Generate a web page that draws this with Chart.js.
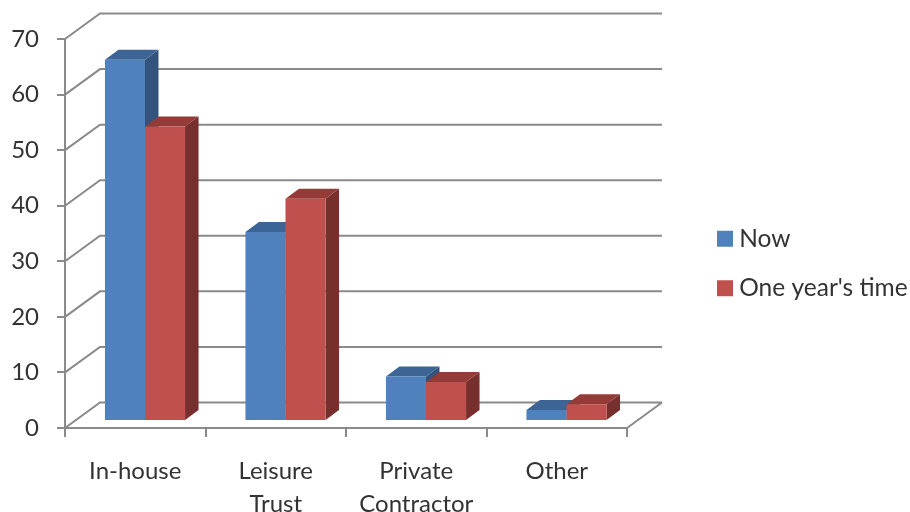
<!DOCTYPE html>
<html>
<head>
<meta charset="utf-8">
<style>
    html, body { margin: 0; padding: 0; background: #fff; }
    #wrap { width: 910px; height: 512px; }
</style>
<script src="https://cdn.jsdelivr.net/npm/chart.js@4"></script>
</head>
<body>
<div id="wrap"><canvas id="chart" width="910" height="512"></canvas></div>
<script>
const categories = ['In-house', ['Leisure', 'Trust'], ['Private', 'Contractor'], 'Other'];
const nowValues = [65, 34, 8, 2];
const yearValues = [53, 40, 7, 3];
const seriesNames = ['Now', "One year's time"];

const gridColor = '#8a8a8a';
const textColor = '#333333';
const fontName = 'Lato';

// offset of the back wall from the front axes
const wallX = 35, wallY = -25.5;
// bars stand on a floor between the front axis and the wall
const floorX = 9.75, floorY = -7;
// depth of a bar
const depthX = 13.5, depthY = -10;

const fake3d = {
    id: 'fake3d',
    beforeDatasetsDraw(chart) {
        const ctx = chart.ctx;
        const yScale = chart.scales.y;
        const left = chart.chartArea.left;
        const right = chart.chartArea.right;

        // back wall lines, one for each value tick
        ctx.save();
        ctx.strokeStyle = gridColor;
        ctx.lineWidth = 2;
        yScale.ticks.forEach(function(tick) {
            const y = yScale.getPixelForValue(tick.value);
            ctx.beginPath();
            ctx.moveTo(left, y);
            ctx.lineTo(left + wallX, y + wallY);
            ctx.lineTo(right + wallX, y + wallY);
            if (tick.value === 0) {
                ctx.moveTo(right, y);
                ctx.lineTo(right + wallX, y + wallY);
            }
            ctx.stroke();
        });
        ctx.restore();

        // dataset order matters here, red has to cover the blue side
        ctx.save();
        ctx.translate(floorX, floorY);
        chart.data.datasets.forEach(function(ds, i) {
            chart.getDatasetMeta(i).data.forEach(function(bar) {
                const l = bar.x - bar.width / 2;
                const r = bar.x + bar.width / 2;
                ctx.fillStyle = ds.sideColor;
                ctx.beginPath();
                ctx.moveTo(r, bar.y);
                ctx.lineTo(r + depthX, bar.y + depthY);
                ctx.lineTo(r + depthX, bar.base + depthY);
                ctx.lineTo(r, bar.base);
                ctx.closePath();
                ctx.fill();
                ctx.fillStyle = ds.topColor;
                ctx.beginPath();
                ctx.moveTo(l, bar.y);
                ctx.lineTo(l + depthX, bar.y + depthY);
                ctx.lineTo(r + depthX, bar.y + depthY);
                ctx.lineTo(r, bar.y);
                ctx.closePath();
                ctx.fill();
                bar.draw(ctx);
            });
        });
        ctx.restore();
        return false;
    },
    afterLayout(chart) {
        // legend sits away from the plot, not right next to it
        const legend = chart.legend;
        const w = legend.width;
        legend.left = 698;
        legend.right = 698 + w;
        legend.top = 8;
        legend.bottom = 519;
    }
};

new Chart(document.getElementById('chart'), {
    type: 'bar',
    data: {
        labels: categories,
        datasets: [
            { label: seriesNames[0], data: nowValues, backgroundColor: '#4f81bd', sideColor: '#33537c', topColor: '#3c6494' },
            { label: seriesNames[1], data: yearValues, backgroundColor: '#c0504d', sideColor: '#772f2d', topColor: '#943b38' }
        ]
    },
    options: {
        responsive: false,
        animation: false,
        events: [],
        layout: { padding: { top: 39, right: 74, bottom: 0, left: 0 } },
        datasets: { bar: { categoryPercentage: 0.57, barPercentage: 1 } },
        plugins: {
            title: { display: false },
            tooltip: { enabled: false },
            legend: {
                position: 'right',
                labels: {
                    // small box with a thick border, the text gap is tied to the font size otherwise
                    boxWidth: 4,
                    boxHeight: 4,
                    padding: 25,
                    color: textColor,
                    font: { family: fontName, size: 24.5 },
                    generateLabels(chart) {
                        return Chart.defaults.plugins.legend.labels.generateLabels(chart).map(function(item) {
                            item.strokeStyle = item.fillStyle;
                            item.lineWidth = 12;
                            return item;
                        });
                    }
                }
            }
        },
        scales: {
            x: {
                afterFit(scale) { scale.height = 84; },
                border: { color: gridColor, width: 2 },
                grid: { drawOnChartArea: false, color: gridColor, lineWidth: 2, tickLength: 9 },
                ticks: {
                    color: textColor,
                    padding: 18,
                    maxRotation: 0,
                    autoSkip: false,
                    font: { family: fontName, size: 24, lineHeight: 1.375 }
                }
            },
            y: {
                min: 0,
                max: 70,
                afterFit(scale) { scale.width = 65; },
                border: { color: gridColor, width: 2 },
                grid: { drawOnChartArea: false, color: gridColor, lineWidth: 2, tickLength: 8 },
                ticks: {
                    stepSize: 10,
                    color: textColor,
                    padding: 18,
                    font: { family: fontName, size: 24 }
                }
            }
        }
    },
    plugins: [fake3d]
});
</script>
</body>
</html>
